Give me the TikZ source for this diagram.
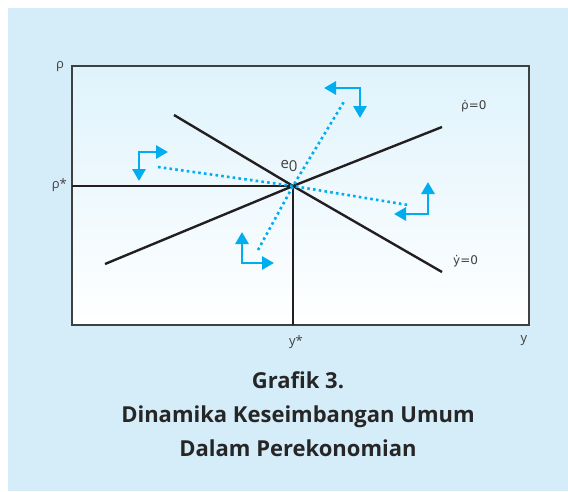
\documentclass[tikz,border=0pt]{standalone}
\usepackage{fontspec}
\setmainfont{Open Sans}
\newfontfamily\dotfont{DejaVu Sans}
\usetikzlibrary{arrows.meta}

\definecolor{panelblue}{HTML}{D5ECF9}
\definecolor{boxtop}{HTML}{DFF3FC}
\definecolor{flowcyan}{HTML}{00AEEF}
\definecolor{curveblack}{HTML}{231F20}

\begin{document}
\begin{tikzpicture}[
      x=1pt, y=-1pt,
      curve/.style={draw=curveblack, line width=2.4pt},
      path/.style={draw=flowcyan, line width=2.6pt, dash pattern=on 2.6pt off 3.2pt},
      flow/.style={draw=flowcyan, line width=2.8pt, line join=miter, {Triangle[length=12pt,width=13pt]}-{Triangle[length=12pt,width=13pt]}},
      lbl/.style={font=\fontsize{13}{15}\selectfont, text=black!75, inner sep=0pt}
    ]

    \useasboundingbox (0,0) rectangle (568,491);

    % ---- background panel and plot box ----
    \fill[panelblue] (8,8) rectangle (568,491);
    \shade[top color=boxtop, bottom color=white] (72,66) rectangle (529,325);
    \draw[black!75, line width=1.2pt] (72,66) rectangle (529,325);

    % ---- equilibrium point ----
    \coordinate (e) at (293,186);

    % ================= curves =================
    \coordinate (rstar) at (72,186);
    \coordinate (ystar) at (293,325);
    \coordinate (rdotL) at (105,264);
    \coordinate (rdotR) at (442,127);
    \coordinate (ydotL) at (174,115);
    \coordinate (ydotR) at (442,272);

    \draw[curve] (rstar) -- (e) -- (ystar);
    \draw[curve] (rdotL) -- (e) -- (rdotR);
    \draw[curve] (ydotL) -- (e) -- (ydotR);

    % ================= saddle paths (dotted) =================
    \coordinate (sA) at (158,167);
    \coordinate (sB) at (408,205);
    \coordinate (sC) at (258,250);
    \coordinate (sD) at (345,100);

    \draw[path] (sA) -- (e) -- (sB);
    \draw[path] (sC) -- (e) -- (sD);

    % ================= direction arrows =================
    \coordinate (nwTip) at (168,152);
    \coordinate (nwCorner) at (139,152);
    \coordinate (nwEnd) at (139,181);
    \draw[flow] (nwTip) -- (nwCorner) -- (nwEnd);

    \coordinate (nTip) at (324,88);
    \coordinate (nCorner) at (360,88);
    \coordinate (nEnd) at (360,118);
    \draw[flow] (nTip) -- (nCorner) -- (nEnd);

    \coordinate (eTip) at (428,182);
    \coordinate (eCorner) at (428,214);
    \coordinate (eEnd) at (394,214);
    \draw[flow] (eTip) -- (eCorner) -- (eEnd);

    \coordinate (sTip) at (242,232);
    \coordinate (sCorner) at (242,263);
    \coordinate (sEnd) at (274,263);
    \draw[flow] (sTip) -- (sCorner) -- (sEnd);

    % ================= labels =================
    \node[lbl] (rho) at (60,67) {ρ};
    \node[lbl, anchor=east] (rhostar) at (67,185) {ρ*};
    \node[lbl] (yst) at (296,342) {y*};
    \node[lbl] (yax) at (524,341) {y};
    \node[lbl, font=\fontsize{15}{17}\selectfont] (e0) at (289,166) {e\raisebox{-0.3ex}{0}};
    \node[lbl, anchor=west, font=\dotfont\fontsize{12}{14}\selectfont] (rdot) at (461,106) {ρ̇=0};
    \node[lbl, anchor=west, font=\dotfont\fontsize{12}{14}\selectfont] (ydot) at (453,261) {ẏ=0};

    % ================= caption =================
    \node[font=\bfseries\fontsize{22}{34}\selectfont, text=black!85, align=center] (title) at (298,414)
      {Grafik 3.\\ Dinamika Keseimbangan Umum\\ Dalam Perekonomian};

\end{tikzpicture}
\end{document}
